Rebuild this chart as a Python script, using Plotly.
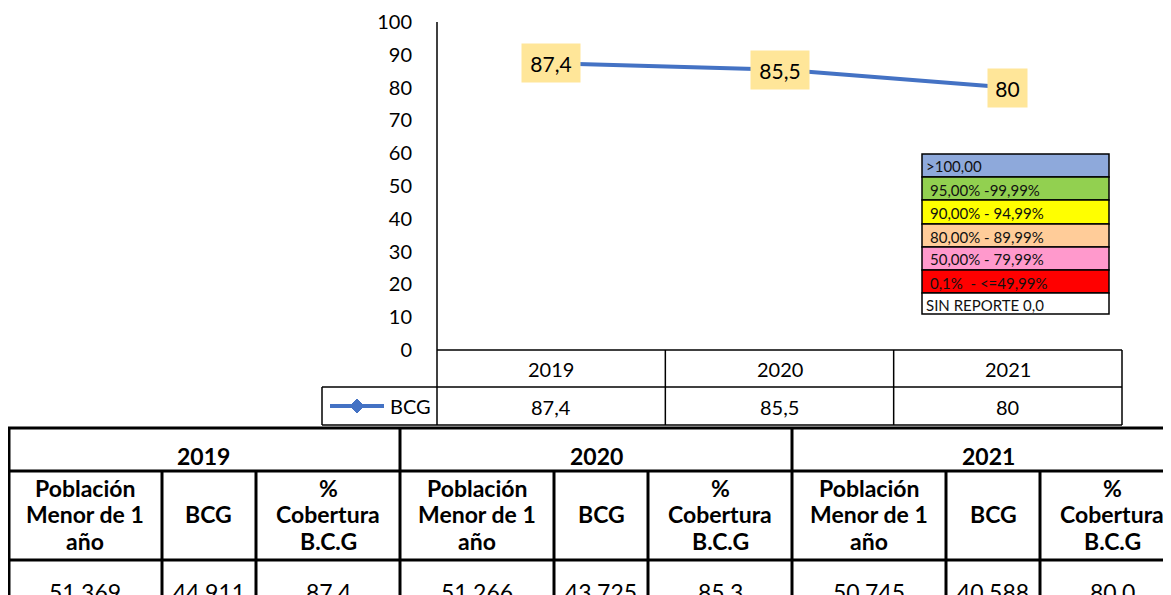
import plotly.graph_objects as go

W, H = 1171, 595          # target screenshot size
OFF = 8                   # page body margin in the browser
FW, FH = W - OFF, H - OFF # figure size so that it ends at the window edge

# ---------------- data ----------------
years = ["2019", "2020", "2021"]
series_name = "BCG"
bcg_coverage = [87.4, 85.5, 80]
y_ticks = [0, 10, 20, 30, 40, 50, 60, 70, 80, 90, 100]

band_labels = [">100,00", "95,00% -99,99%", "90,00% - 94,99%", "80,00% - 89,99%",
               "50,00% - 79,99%", "0,1%  - <=49,99%", "SIN REPORTE 0,0"]
band_colors = ["#8EA9DB", "#92D050", "#FFFF00", "#FFCC99", "#FF99CC", "#FF0000", "#FFFFFF"]

table_years = ["2019", "2020", "2021"]
table_headers = [["Población", "Menor de 1", "año"], ["BCG"], ["%", "Cobertura", "B.C.G"]]
poblacion = [51369, 51266, 50745]
dosis_bcg = [44911, 43725, 40588]
cobertura = [87.4, 85.3, 80.0]

# ---------------- helpers (screen pixels -> paper) ----------------
def px(x):
    return (x - OFF) / FW

def py(y):
    return 1 - (y - OFF) / FH

CHART_FONT = "Lato"
TABLE_FONT = "Lato"
LINE_BLUE = "#4472C4"

fig = go.Figure()

# plot area in screen pixels
PL, PR, PT, PB = 437, 1122, 22, 350

fig.add_trace(go.Scatter(
    x=list(range(len(years))), y=bcg_coverage, mode="lines+markers",
    line=dict(color=LINE_BLUE, width=4),
    marker=dict(symbol="diamond", size=11, color=LINE_BLUE),
    name=series_name, showlegend=False, hoverinfo="skip",
))

fig.update_layout(
    width=FW, height=FH,
    margin=dict(l=0, r=0, t=0, b=0, autoexpand=False),
    paper_bgcolor="white", plot_bgcolor="white",
    xaxis=dict(domain=[px(PL), px(PR)], range=[-0.5, len(years) - 0.5],
               showgrid=False, zeroline=False, showticklabels=False, showline=False,
               fixedrange=True, automargin=False),
    yaxis=dict(domain=[py(PB), py(PT)], range=[0, 100], tickvals=y_ticks,
               showgrid=False, zeroline=False, showline=False, ticks="",
               tickfont=dict(family=CHART_FONT, size=20, color="#000000"),
               ticklabelstandoff=24, fixedrange=True, automargin=False),
)

shapes = []
annotations = []

def hline(x0, x1, y, color="#000000", width=1.5):
    shapes.append(dict(type="line", xref="paper", yref="paper",
                       x0=px(x0), x1=px(x1), y0=py(y), y1=py(y),
                       line=dict(color=color, width=width)))

def vline(x, y0, y1, color="#000000", width=1.5):
    shapes.append(dict(type="line", xref="paper", yref="paper",
                       x0=px(x), x1=px(x), y0=py(y0), y1=py(y1),
                       line=dict(color=color, width=width)))

def text(x, y, s, size, bold=False, font=TABLE_FONT, xanchor="center", color="#000000"):
    annotations.append(dict(xref="paper", yref="paper", x=px(x), y=py(y),
                            text=(f"<b>{s}</b>" if bold else s),
                            showarrow=False, xanchor=xanchor, yanchor="middle",
                            font=dict(family=font, size=size, color=color)))

# value axis line (continues down as data-table left border)
vline(PL, PT, 425)

# data labels on points
for i, v in enumerate(bcg_coverage):
    lab = f"{v:g}".replace(".", ",")
    annotations.append(dict(xref="x", yref="y", x=i, y=v, text=lab, showarrow=False,
                            xanchor="center", yanchor="middle",
                            bgcolor="#FFE699", borderpad=7,
                            width=9.5 * len(lab) + 6, height=24,
                            font=dict(family=CHART_FONT, size=21, color="#000000")))

# ---------------- chart data table ----------------
col_w = (PR - PL) / len(years)
hline(PL, PR, PB)
hline(322, PR, 387)
hline(322, PR, 425)
vline(322, 387, 425)
for k in range(1, len(years) + 1):
    vline(PL + k * col_w, PB, 425)
for i, yr in enumerate(years):
    cx = PL + (i + 0.5) * col_w
    text(cx, 369, yr, 20, font=CHART_FONT)
    text(cx, 407, f"{bcg_coverage[i]:g}".replace(".", ","), 20, font=CHART_FONT)

# legend key in data table
shapes.append(dict(type="line", xref="paper", yref="paper", x0=px(330), x1=px(384),
                   y0=py(406), y1=py(406), line=dict(color=LINE_BLUE, width=4)))
dcx, dcy, dr = 357, 406, 7
shapes.append(dict(type="path", xref="paper", yref="paper",
                   path=(f"M {px(dcx)},{py(dcy - dr)} L {px(dcx + dr)},{py(dcy)} "
                         f"L {px(dcx)},{py(dcy + dr)} L {px(dcx - dr)},{py(dcy)} Z"),
                   fillcolor=LINE_BLUE, line=dict(color=LINE_BLUE, width=1)))
text(388, 406, series_name, 20, font=CHART_FONT, xanchor="left")

# ---------------- colour band key ----------------
BX0, BX1 = 922, 1109
row_edges = [154, 177, 200, 224, 247, 270, 293, 314]
for i, (lab, col) in enumerate(zip(band_labels, band_colors)):
    y0, y1 = row_edges[i], row_edges[i + 1]
    shapes.append(dict(type="rect", xref="paper", yref="paper",
                       x0=px(BX0), x1=px(BX1), y0=py(y0), y1=py(y1),
                       fillcolor=col, line=dict(color="#000000", width=1.5)))
    indent = 2 if i in (0, len(band_labels) - 1) else 6
    text(BX0 + indent, (y0 + y1) / 2 + 1, lab, 15, font=CHART_FONT, xanchor="left", color="#111111")

# ---------------- bottom table ----------------
TL, TT = 8, 428
R1, R2 = 471, 560
block_w = 392
sub_w = [154, 94, 144]
TW = 3
hline(TL, W + 5, TT, width=TW)
hline(TL, W + 5, R1, width=TW)
hline(TL, W + 5, R2, width=TW)
vline(TL + 1, TT, H + 5, width=TW)
for b in range(len(table_years)):
    bx = TL + b * block_w
    if b > 0:
        vline(bx, TT, H + 5, width=TW)
    text(bx + block_w / 2, 456, table_years[b], 23, bold=True)
    xs = [bx]
    for w in sub_w:
        xs.append(xs[-1] + w)
    for j in range(1, 3):
        vline(xs[j], R1, H + 5, width=TW)
    vals = [f"{poblacion[b]:,}".replace(",", "."),
            f"{dosis_bcg[b]:,}".replace(",", "."),
            f"{cobertura[b]:.1f}"]
    for j, lines in enumerate(table_headers):
        cx = (xs[j] + xs[j + 1]) / 2
        if len(lines) == 1:
            text(cx, 514, lines[0], 23, bold=True)
        else:
            for k, ln in enumerate(lines):
                text(cx, 488 + 26.5 * k, ln, 23, bold=True)
        text(cx, 592, vals[j], 23)

fig.update_layout(shapes=shapes, annotations=annotations)
fig.write_html("out.html")
